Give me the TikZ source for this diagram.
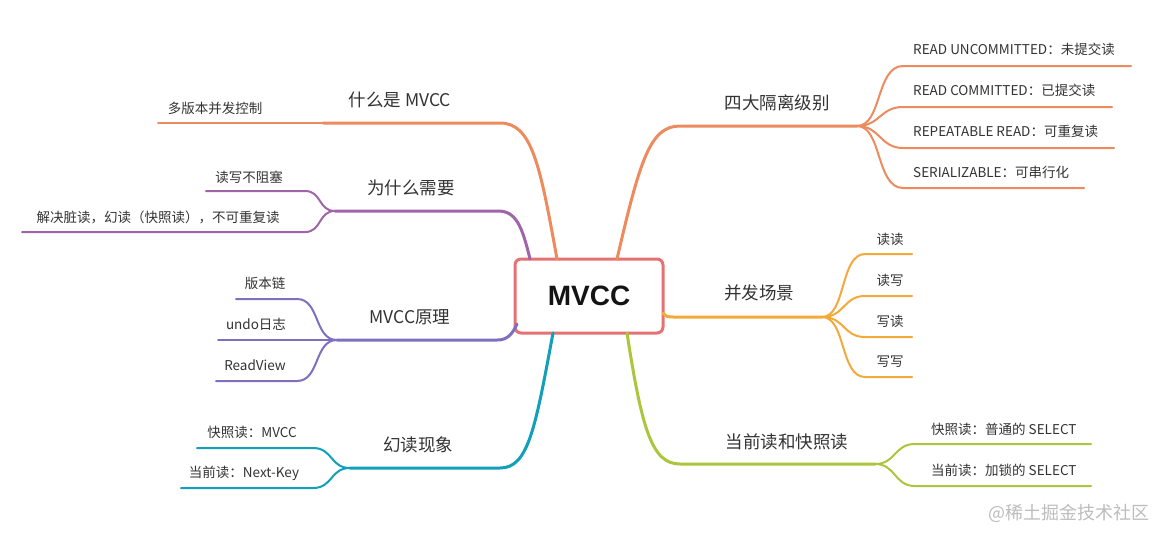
\documentclass[tikz,border=0pt]{standalone}
\usepackage{fontspec}
\setmainfont{Noto Sans CJK SC}
\newfontfamily\rootfont{Liberation Sans}
\definecolor{txt}{HTML}{333333}
\definecolor{rootc}{HTML}{E57272}
\definecolor{cA}{HTML}{EE8B5E}
\definecolor{cB}{HTML}{A064A8}
\definecolor{cC}{HTML}{7F6FBE}
\definecolor{cD}{HTML}{129FB9}
\definecolor{cE}{HTML}{F4A93B}
\definecolor{cF}{HTML}{ABC63C}
\definecolor{wm}{HTML}{BDBDBD}
\tikzset{
  lbl/.style={font=\fontsize{17.5}{20}\selectfont, text=txt, inner sep=0pt},
  sub/.style={font=\fontsize{13.5}{16}\selectfont, text=txt, inner sep=0pt},
  branch/.style={line width=3pt, line cap=round},
  leaf/.style={line width=2pt, line cap=round},
}
\begin{document}
\begin{tikzpicture}[x=1pt,y=-1pt]
\fill[white] (0,0) rectangle (1166,541);
\useasboundingbox (0,0) rectangle (1166,541);

% root
\node[draw=rootc, line width=3pt, rounded corners=6pt, fill=white, minimum width=148pt, minimum height=74pt,
      font=\rootfont\fontsize{28}{32}\selectfont\bfseries, text=black!92] (root) at (589,296) {MVCC};

% ---------- branch 1: 什么是 MVCC
\coordinate (b1s) at (557,259);
\coordinate (b1e) at (500,123);
\coordinate (b1j) at (323,123);
\coordinate (l1a) at (158,123);
\draw[branch, cA] (b1s) .. controls (540,165) and (532,123) .. (b1e) -- (b1j);
\draw[leaf, cA] (b1j) -- (l1a);
\node[lbl] (t1) at (400,100) {什么是 MVCC};
\node[sub] (t1a) at (215,108) {多版本并发控制};

% ---------- branch 2: 为什么需要
\coordinate (b2s) at (530,259);
\coordinate (b2e) at (498,211);
\coordinate (b2j) at (335,211);
\coordinate (l2ac) at (305,191);
\coordinate (l2a) at (206,191);
\coordinate (l2bc) at (305,232);
\coordinate (l2b) at (22,232);
\draw[branch, cB] (b2s) .. controls (522,226) and (516,211) .. (b2e) -- (b2j);
\draw[leaf, cB] (b2j) .. controls (318,211) and (322,191) .. (l2ac) -- (l2a);
\draw[leaf, cB] (b2j) .. controls (318,211) and (322,232) .. (l2bc) -- (l2b);
\node[lbl] (t2) at (411,188) {为什么需要};
\node[sub] (t2a) at (249,177) {读写不阻塞};
\node[sub] (t2b) at (158,217) {解决脏读，幻读（快照读），不可重复读};

% ---------- branch 3: MVCC原理
\coordinate (b3s) at (517,324);
\coordinate (b3e) at (497,340);
\coordinate (b3j) at (337,340);
\coordinate (l3ac) at (297,299);
\coordinate (l3a) at (236,299);
\coordinate (l3b) at (218,340);
\coordinate (l3cc) at (297,381);
\coordinate (l3c) at (216,381);
\draw[branch, cC] (b3s) .. controls (512,335) and (507,340) .. (b3e) -- (b3j);
\draw[leaf, cC] (b3j) .. controls (314,340) and (320,299) .. (l3ac) -- (l3a);
\draw[leaf, cC] (b3j) -- (l3b);
\draw[leaf, cC] (b3j) .. controls (314,340) and (320,381) .. (l3cc) -- (l3c);
\node[lbl] (t3) at (410,317) {MVCC原理};
\node[sub] (t3a) at (265,283) {版本链};
\node[sub] (t3b) at (256,324) {undo日志};
\node[sub] (t3c) at (255,365) {ReadView};

% ---------- branch 4: 幻读现象
\coordinate (b4s) at (553,333);
\coordinate (b4e) at (500,468);
\coordinate (b4j) at (350,468);
\coordinate (l4ac) at (313,448);
\coordinate (l4a) at (197,448);
\coordinate (l4bc) at (313,488);
\coordinate (l4b) at (181,488);
\draw[branch, cD] (b4s) .. controls (535,430) and (528,468) .. (b4e) -- (b4j);
\draw[leaf, cD] (b4j) .. controls (330,468) and (333,448) .. (l4ac) -- (l4a);
\draw[leaf, cD] (b4j) .. controls (330,468) and (333,488) .. (l4bc) -- (l4b);
\node[lbl] (t4) at (418,445) {幻读现象};
\node[sub] (t4a) at (252,432) {快照读：MVCC};
\node[sub] (t4b) at (244,473) {当前读：Next-Key};

% ---------- branch 5: 四大隔离级别
\coordinate (b5s) at (617,259);
\coordinate (b5e) at (680,126);
\coordinate (b5j) at (857,126);
\coordinate (l5ac) at (903,66);
\coordinate (l5a) at (1131,66);
\coordinate (l5bc) at (903,107);
\coordinate (l5b) at (1112,107);
\coordinate (l5cc) at (903,148);
\coordinate (l5c) at (1114,148);
\coordinate (l5dc) at (903,188);
\coordinate (l5d) at (1084,188);
\draw[branch, cA] (b5s) .. controls (640,160) and (650,126) .. (b5e) -- (b5j);
\draw[leaf, cA] (b5j) .. controls (882,126) and (876,66) .. (l5ac) -- (l5a);
\draw[leaf, cA] (b5j) .. controls (880,126) and (880,107) .. (l5bc) -- (l5b);
\draw[leaf, cA] (b5j) .. controls (880,126) and (880,148) .. (l5cc) -- (l5c);
\draw[leaf, cA] (b5j) .. controls (882,126) and (876,188) .. (l5dc) -- (l5d);
\node[lbl] (t5) at (777,103) {四大隔离级别};
\node[sub, anchor=west] (t5a) at (913,49) {READ UNCOMMITTED：未提交读};
\node[sub, anchor=west] (t5b) at (913,90) {READ COMMITTED：已提交读};
\node[sub, anchor=west] (t5c) at (913,131) {REPEATABLE READ：可重复读};
\node[sub, anchor=west] (t5d) at (913,172) {SERIALIZABLE：可串行化};

% ---------- branch 6: 并发场景
\coordinate (b6s) at (663,313);
\coordinate (b6e) at (675,317);
\coordinate (b6j) at (822,317);
\coordinate (l6ac) at (865,254);
\coordinate (l6a) at (912,254);
\coordinate (l6bc) at (865,296);
\coordinate (l6b) at (912,296);
\coordinate (l6cc) at (865,337);
\coordinate (l6c) at (912,337);
\coordinate (l6dc) at (865,377);
\coordinate (l6d) at (912,377);
\draw[branch, cE] (b6s) .. controls (667,317) .. (b6e) -- (b6j);
\draw[leaf, cE] (b6j) .. controls (846,317) and (840,254) .. (l6ac) -- (l6a);
\draw[leaf, cE] (b6j) .. controls (845,317) and (843,296) .. (l6bc) -- (l6b);
\draw[leaf, cE] (b6j) .. controls (845,317) and (843,337) .. (l6cc) -- (l6c);
\draw[leaf, cE] (b6j) .. controls (846,317) and (840,377) .. (l6dc) -- (l6d);
\node[lbl] (t6) at (759,293) {并发场景};
\node[sub] (t6a) at (890,239) {读读};
\node[sub] (t6b) at (890,280) {读写};
\node[sub] (t6c) at (890,321) {写读};
\node[sub] (t6d) at (890,362) {写写};

% ---------- branch 7: 当前读和快照读
\coordinate (b7s) at (627,333);
\coordinate (b7e) at (680,464);
\coordinate (b7j) at (875,464);
\coordinate (l7ac) at (915,444);
\coordinate (l7a) at (1091,444);
\coordinate (l7bc) at (915,486);
\coordinate (l7b) at (1091,486);
\draw[branch, cF] (b7s) .. controls (642,430) and (652,464) .. (b7e) -- (b7j);
\draw[leaf, cF] (b7j) .. controls (896,464) and (894,444) .. (l7ac) -- (l7a);
\draw[leaf, cF] (b7j) .. controls (896,464) and (894,486) .. (l7bc) -- (l7b);
\node[lbl] (t7) at (787,442) {当前读和快照读};
\node[sub, anchor=west] (t7a) at (931,429) {快照读：普通的 SELECT};
\node[sub, anchor=west] (t7b) at (931,470) {当前读：加锁的 SELECT};

% watermark
\node[font=\fontsize{18}{20}\selectfont, text=wm, inner sep=0pt] (wmk) at (1069,513) {@稀土掘金技术社区};
\end{tikzpicture}
\end{document}
